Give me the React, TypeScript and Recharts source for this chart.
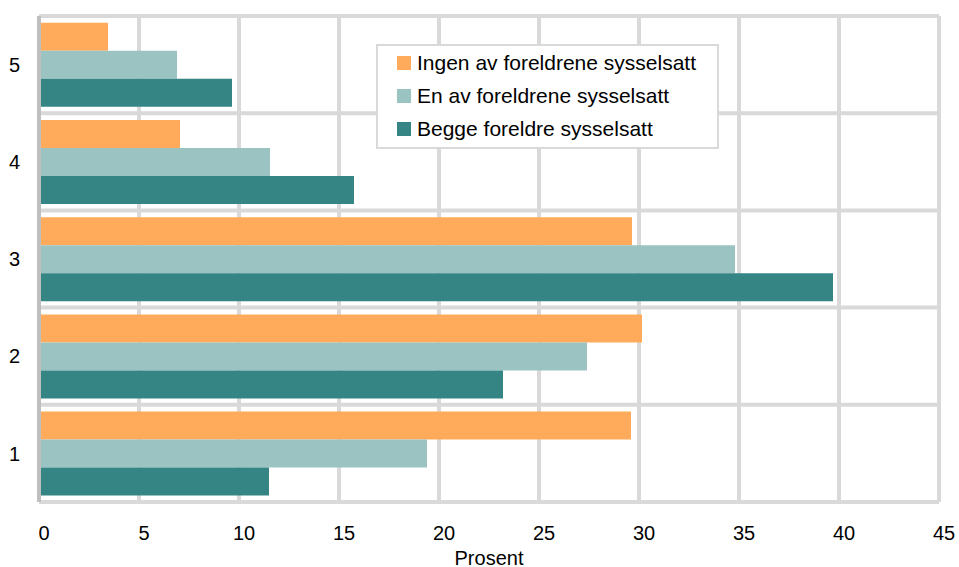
import React from 'react';
import { BarChart, Bar, XAxis, YAxis, CartesianGrid } from 'recharts';

// Categories top to bottom as drawn
const categories = ['5', '4', '3', '2', '1'];
const ingen = [3.45, 7.05, 29.65, 30.15, 29.6];
const enAv = [6.9, 11.55, 34.8, 27.4, 19.4];
const begge = [9.65, 15.75, 39.7, 23.2, 11.5];
const xTicks = [0, 5, 10, 15, 20, 25, 30, 35, 40, 45];

const SERIES = [
  { key: 'ingen', name: 'Ingen av foreldrene sysselsatt', color: '#FFAB5B' },
  { key: 'enAv', name: 'En av foreldrene sysselsatt', color: '#9BC3C2' },
  { key: 'begge', name: 'Begge foreldre sysselsatt', color: '#358584' },
];

const data = categories.map((c, i) => ({ cat: c, ingen: ingen[i], enAv: enAv[i], begge: begge[i] }));

const FONT = '"Liberation Sans", Arial, sans-serif';

// legend drawn as an overlay box so it doesn't push the plot area down
const LegendBox = () => (
  <div
    style={{
      position: 'absolute',
      left: 376,
      top: 44,
      width: 343,
      height: 105,
      border: '2px solid #d9d9d9',
      background: '#fff',
      padding: '0 0 0 19px',
      boxSizing: 'border-box',
      fontFamily: FONT,
      fontSize: 21,
      color: '#000',
    }}
  >
    {SERIES.map((s) => (
      <div key={s.key} style={{ display: 'flex', alignItems: 'center', height: 33 }}>
        <span style={{ width: 14, height: 14, background: s.color, marginRight: 6, display: 'inline-block' }} />
        {s.name}
      </div>
    ))}
  </div>
);

export default function App() {
  return (
    <div style={{ position: 'absolute', left: 0, top: 0, width: 959, height: 567, background: '#fff' }}>
      <BarChart
        width={959}
        height={567}
        data={data}
        layout="vertical"
        margin={{ top: 16, right: 20, bottom: 0, left: 0 }}
        barCategoryGap="7%"
        barGap={0}
      >
        <CartesianGrid
          stroke="#d9d9d9"
          strokeWidth={4}
          horizontalCoordinatesGenerator={({ offset }: any) =>
            categories.concat(['']).map((_, i) => offset.top + (offset.height * i) / categories.length)
          }
        />
        <XAxis
          type="number"
          domain={[0, 45]}
          ticks={xTicks}
          interval={0}
          axisLine={false}
          tickLine={false}
          tickSize={0}
          tickMargin={24}
          height={65}
          tick={{ fill: '#000', fontSize: 20, fontFamily: FONT, dx: 5 }}
          label={{ value: 'Prosent', position: 'insideBottom', offset: 2, fill: '#000', fontSize: 20, fontFamily: FONT }}
        />
        <YAxis
          type="category"
          dataKey="cat"
          width={39}
          axisLine={{ stroke: '#bfbfbf', strokeWidth: 4 }}
          tickLine={false}
          tickSize={0}
          tickMargin={19}
          tick={{ fill: '#000', fontSize: 20, fontFamily: FONT }}
        />
        {SERIES.map((s) => (
          <Bar key={s.key} dataKey={s.key} name={s.name} fill={s.color} isAnimationActive={false} />
        ))}
      </BarChart>
      <LegendBox />
    </div>
  );
}
